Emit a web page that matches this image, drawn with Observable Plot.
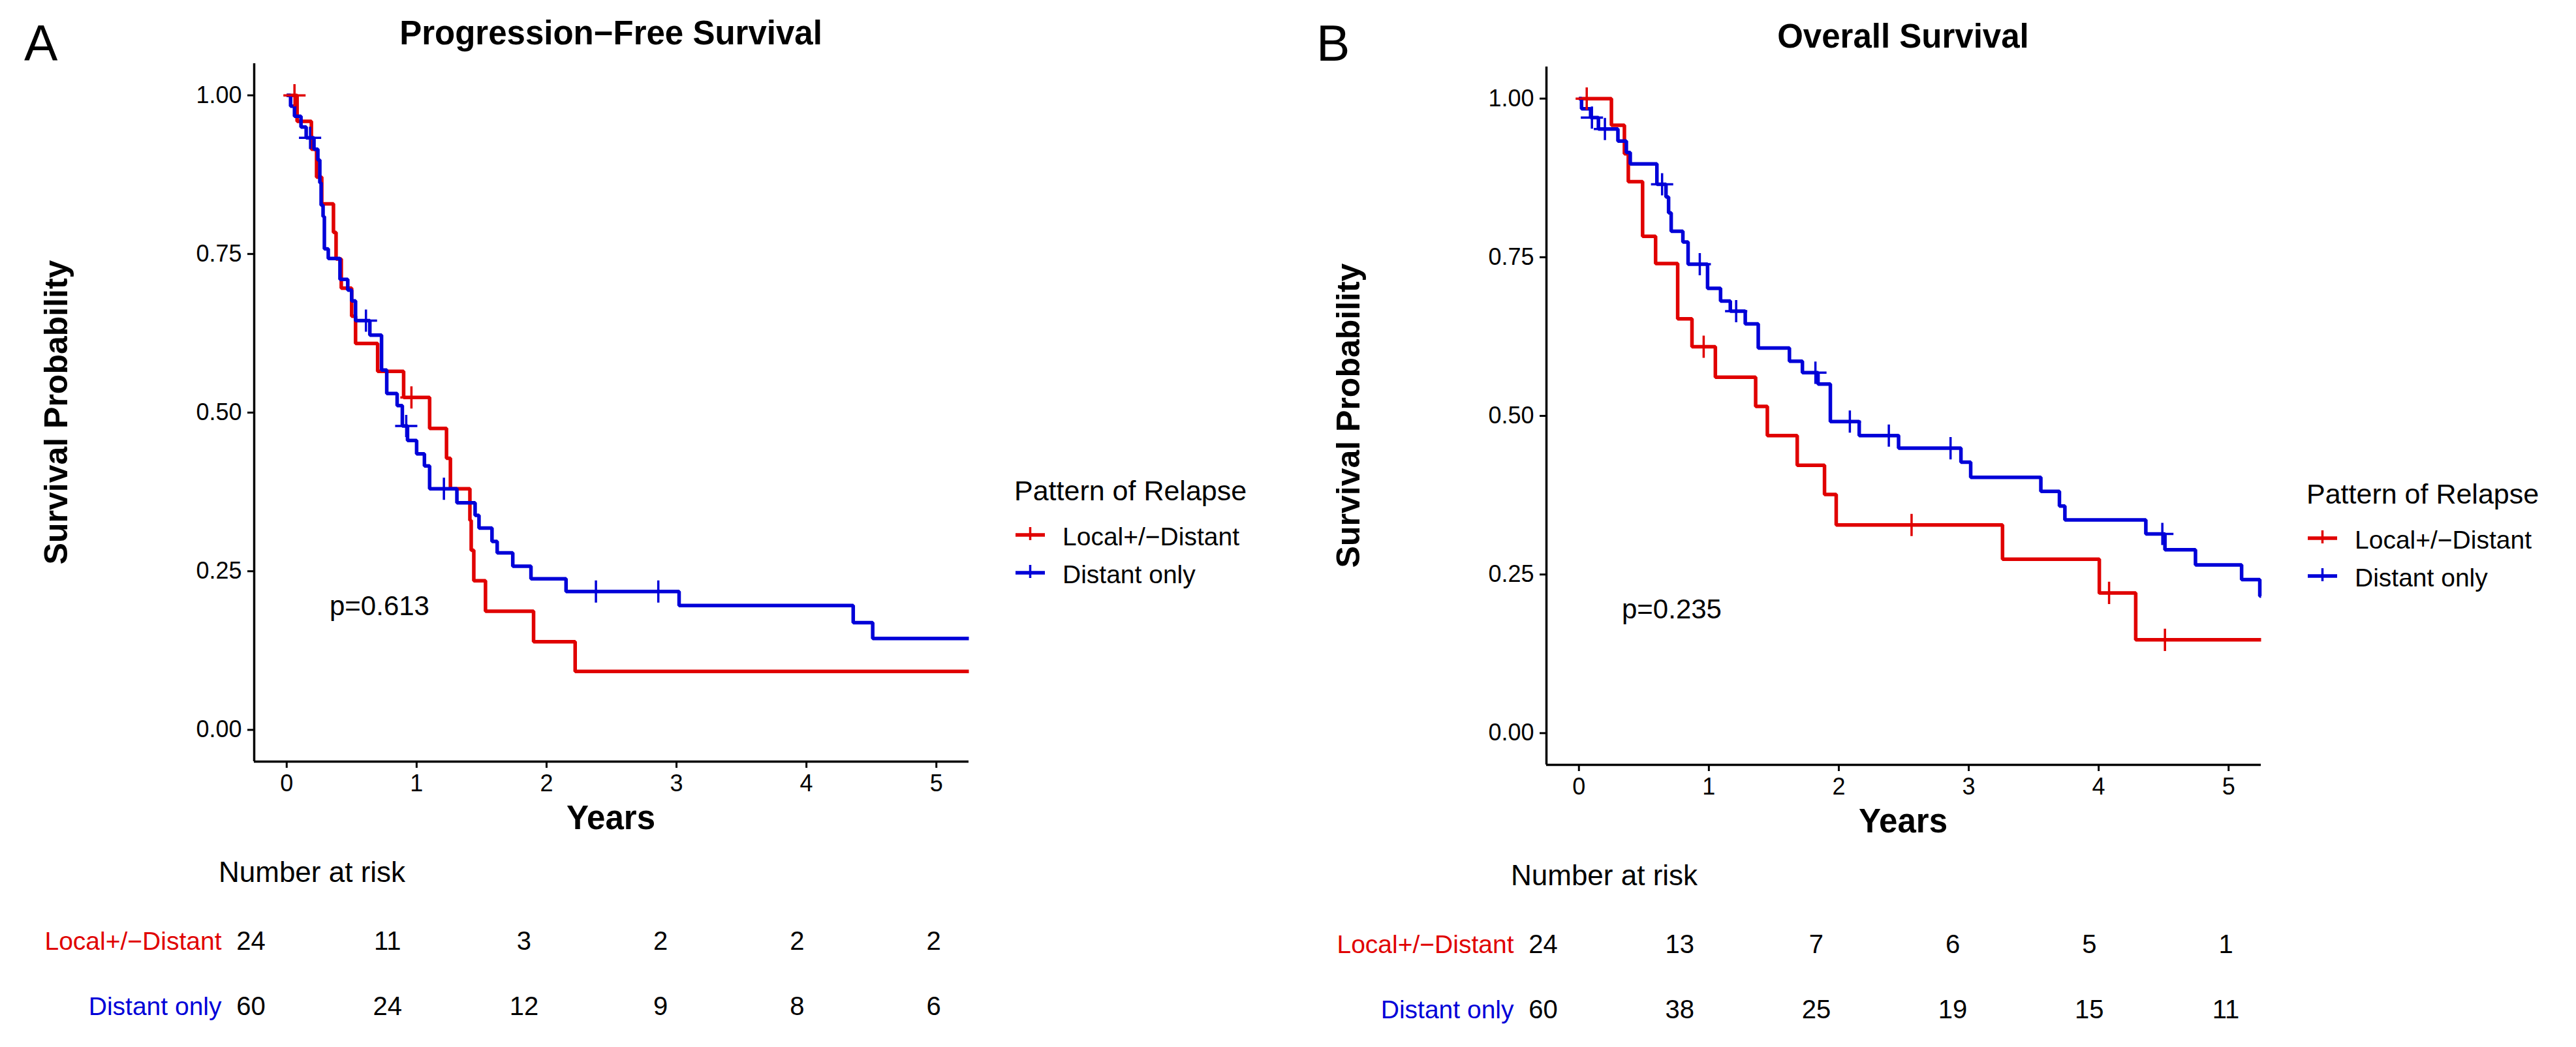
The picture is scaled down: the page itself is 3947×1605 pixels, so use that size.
<!DOCTYPE html>
<html><head><meta charset="utf-8">
<script src="https://cdn.jsdelivr.net/npm/d3@7"></script>
<script src="https://cdn.jsdelivr.net/npm/@observablehq/plot@0.6"></script>
<style>
html,body{margin:0;padding:0;background:#fff;}
#root{position:relative;width:3947px;height:1605px;overflow:hidden;background:#fff;font-family:"Liberation Sans",Arial,sans-serif;}
.abs{position:absolute;}
</style></head><body><div id="root"></div>
<script>
// ---------- data ----------
const groups = ["Local+/−Distant", "Distant only"];
const groupColors = ["#e00000", "#0000d8"];
const legendTitle = "Pattern of Relapse";
const xTicks = [0, 1, 2, 3, 4, 5];
const yTicks = [0, 0.25, 0.5, 0.75, 1];
const xDomain = [-0.25, 5.25];
const yDomain = [-0.05, 1.05];
const riskTimes = [0, 1, 2, 3, 4, 5];

// Progression-free survival: [years, survival]
const pfsLocal = [[0,1],[0.08,0.959],[0.19,0.915],[0.23,0.871],[0.27,0.829],[0.36,0.784],[0.38,0.742],[0.42,0.696],[0.50,0.652],[0.53,0.609],[0.70,0.565],[0.90,0.524],[1.10,0.475],[1.23,0.428],[1.26,0.380],[1.41,0.330],[1.42,0.283],[1.44,0.235],[1.53,0.187],[1.90,0.139],[2.22,0.092],[5.25,0.092]];
const pfsLocalCensor = [[0.06,1.0],[0.96,0.524]];
const pfsDistant = [[0,1],[0.03,0.983],[0.06,0.967],[0.11,0.950],[0.15,0.933],[0.21,0.915],[0.24,0.898],[0.255,0.862],[0.265,0.827],[0.28,0.809],[0.29,0.758],[0.32,0.743],[0.41,0.710],[0.47,0.693],[0.50,0.676],[0.53,0.645],[0.64,0.622],[0.73,0.567],[0.77,0.530],[0.85,0.511],[0.89,0.479],[0.93,0.456],[1.00,0.435],[1.06,0.416],[1.10,0.380],[1.31,0.358],[1.45,0.338],[1.48,0.318],[1.58,0.297],[1.62,0.279],[1.74,0.258],[1.88,0.238],[2.15,0.218],[3.02,0.196],[4.36,0.169],[4.51,0.144],[5.25,0.144]];
const pfsDistantCensor = [[0.18,0.933],[0.61,0.645],[0.92,0.479],[1.21,0.380],[2.38,0.218],[2.86,0.218]];
const pfsPval = "p=0.613";
const pfsRiskLocal = [24, 11, 3, 2, 2, 2];
const pfsRiskDistant = [60, 24, 12, 9, 8, 6];

// Overall survival: [years, survival]
const osLocal = [[0,1],[0.25,0.958],[0.35,0.913],[0.38,0.869],[0.49,0.783],[0.59,0.740],[0.76,0.653],[0.87,0.609],[1.05,0.561],[1.36,0.515],[1.45,0.469],[1.68,0.422],[1.89,0.376],[1.98,0.328],[3.26,0.274],[4.005,0.221],[4.285,0.147],[5.25,0.147]];
const osLocalCensor = [[0.06,1.0],[0.96,0.609],[2.56,0.328],[4.08,0.221],[4.51,0.147]];
const osDistant = [[0,1],[0.02,0.984],[0.09,0.970],[0.15,0.952],[0.30,0.933],[0.365,0.915],[0.395,0.897],[0.60,0.865],[0.67,0.845],[0.69,0.820],[0.71,0.791],[0.80,0.774],[0.84,0.739],[0.99,0.701],[1.09,0.681],[1.165,0.665],[1.28,0.645],[1.38,0.607],[1.62,0.586],[1.72,0.568],[1.84,0.550],[1.935,0.491],[2.157,0.469],[2.46,0.449],[2.94,0.427],[3.015,0.403],[3.555,0.381],[3.698,0.358],[3.74,0.336],[4.363,0.314],[4.51,0.289],[4.745,0.265],[5.10,0.242],[5.24,0.216],[5.25,0.216]];
const osDistantCensor = [[0.10,0.970],[0.20,0.952],[0.64,0.865],[0.93,0.739],[1.21,0.665],[1.82,0.568],[2.085,0.491],[2.385,0.469],[2.86,0.449],[4.49,0.314]];
const osPval = "p=0.235";
const osRiskLocal = [24, 13, 7, 6, 5, 1];
const osRiskDistant = [60, 38, 25, 19, 15, 11];

const pvalCoord = [0.33, 0.195];

// ---------- layout ----------
const FONT = '"Liberation Sans", Arial, sans-serif';
const panels = [
  {letter: "A", title: "Progression−Free Survival", curves: [pfsLocal, pfsDistant], censors: [pfsLocalCensor, pfsDistantCensor], pval: pfsPval, risk: [pfsRiskLocal, pfsRiskDistant], dx: 0, dy: 0},
  {letter: "B", title: "Overall Survival", curves: [osLocal, osDistant], censors: [osLocalCensor, osDistantCensor], pval: osPval, risk: [osRiskLocal, osRiskDistant], dx: 1980, dy: 5}
];

const root = document.getElementById("root");
const color = {domain: groups, range: groupColors};

function place(node, left, top) {
  const div = document.createElement("div");
  div.className = "abs";
  div.style.left = left + "px";
  div.style.top = top + "px";
  div.appendChild(node);
  root.appendChild(div);
}

for (const p of panels) {
  const lines = p.curves.flatMap((c, i) => c.map(([t, s]) => ({t, s, g: groups[i]})));
  const cens = p.censors.flatMap((c, i) => c.map(([t, s]) => ({t, s, g: groups[i]})));
  const km = Plot.plot({
    width: 1500, height: 1240,
    marginLeft: 389, marginRight: 16, marginTop: 97, marginBottom: 73,
    x: {domain: xDomain},
    y: {domain: yDomain},
    color,
    style: {fontFamily: FONT, background: "none", overflow: "visible", color: "#000"},
    marks: [
      Plot.axisX({ticks: xTicks, tickSize: 10, tickPadding: 10, fontSize: 36, strokeWidth: 3, tickFormat: d3.format("d"), label: null, fill: "#000"}),
      Plot.axisY({ticks: yTicks, tickSize: 10, tickPadding: 9, fontSize: 36, strokeWidth: 3, tickFormat: d3.format(".2f"), label: null, fill: "#000"}),
      Plot.line(lines, {x: "t", y: "s", z: "g", stroke: "g", curve: "step-after", strokeWidth: 5.5, strokeLinejoin: "miter", strokeLinecap: "butt"}),
      Plot.dot(cens, {x: "t", y: "s", stroke: "g", symbol: "plus", r: 11, strokeWidth: 3.5}),
      Plot.ruleX([xDomain[0]], {stroke: "#000", strokeWidth: 3.5}),
      Plot.ruleY([yDomain[0]], {stroke: "#000", strokeWidth: 3.5}),
      Plot.text([p.pval], {x: () => pvalCoord[0], y: () => pvalCoord[1], text: d => d, textAnchor: "start", fontSize: 42, fill: "#000"})
    ]
  });
  place(km, p.dx, p.dy);

  const riskRows = p.risk.flatMap((r, i) => r.map((n, k) => ({t: riskTimes[k], n, g: groups[i]})));
  const rt = Plot.plot({
    width: 1500, height: 220,
    marginLeft: 384, marginRight: 70, marginTop: 0, marginBottom: 0,
    x: {domain: [riskTimes[0], riskTimes[riskTimes.length - 1]], axis: null},
    y: {type: "point", domain: groups, range: [63, 163], padding: 0, axis: null},
    color,
    style: {fontFamily: FONT, background: "none", overflow: "visible"},
    marks: [
      Plot.text(riskRows, {x: "t", y: "g", text: d => String(d.n), fontSize: 40, fill: "#000"}),
      Plot.text(groups, {y: d => d, text: d => d, frameAnchor: "left", textAnchor: "end", dx: -45, fontSize: 39, fill: d => d})
    ]
  });
  place(rt, p.dx, 1380 + p.dy);
}

// static text overlay
const svg = d3.select(root).append("svg").attr("class", "abs")
  .style("left", "0px").style("top", "0px")
  .attr("width", 3947).attr("height", 1605)
  .attr("font-family", FONT);

for (const p of panels) {
  const g = svg.append("g").attr("transform", `translate(${p.dx},${p.dy})`);
  g.append("text").attr("x", 37).attr("y", 93 - p.dy).attr("font-size", 77).text(p.letter);
  g.append("text").attr("x", 936).attr("y", 68).attr("text-anchor", "middle").attr("font-size", 51).attr("font-weight", "bold").text(p.title);
  g.append("text").attr("transform", "translate(103,632) rotate(-90)").attr("text-anchor", "middle").attr("font-size", 50).attr("font-weight", "bold").text("Survival Probability");
  g.append("text").attr("x", 936).attr("y", 1271).attr("text-anchor", "middle").attr("font-size", 51).attr("font-weight", "bold").text("Years");
  g.append("text").attr("x", 335).attr("y", 1352).attr("font-size", 44).text("Number at risk");
  // legend
  const lg = g.append("g").attr("transform", "translate(1554,0)");
  lg.append("text").attr("x", 0).attr("y", 767).attr("font-size", 43).text(legendTitle);
  groups.forEach((name, i) => {
    const cy = 820 + 58 * i;
    lg.append("line").attr("x1", 2).attr("x2", 47).attr("y1", cy).attr("y2", cy).attr("stroke", groupColors[i]).attr("stroke-width", 5.5);
    lg.append("line").attr("x1", 24.5).attr("x2", 24.5).attr("y1", cy - 12).attr("y2", cy + 8).attr("stroke", groupColors[i]).attr("stroke-width", 3.5);
    lg.append("text").attr("x", 74).attr("y", cy + 16).attr("font-size", 39).text(name);
  });
}
</script>
</body></html>
